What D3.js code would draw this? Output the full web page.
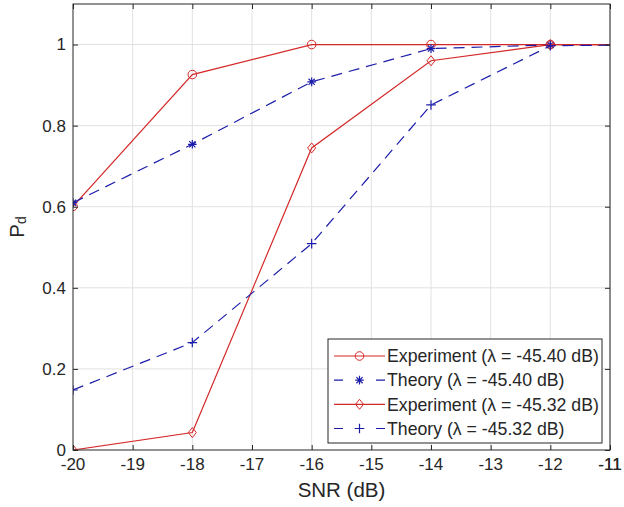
<!DOCTYPE html>
<html>
<head>
<meta charset="utf-8">
<script src="https://cdn.jsdelivr.net/npm/d3@7"></script>
<style>
  body { margin: 0; background: #fff; }
  text { font-family: "Liberation Sans", Arial, sans-serif; fill: #262626; }
</style>
</head>
<body>
<div id="plot"></div>
<script>
// values
const snr = [-20, -18, -16, -14, -12, -10];
const expHigh = [0.601, 0.926, 1.0, 1.0, 1.0, 1.0];      // lambda = -45.40 dB
const theoryHigh = [0.61, 0.754, 0.908, 0.99, 0.999, 1.0];
const expLow = [0.0, 0.043, 0.745, 0.96, 1.0, 1.0];       // lambda = -45.32 dB
const theoryLow = [0.148, 0.265, 0.509, 0.851, 0.997, 1.0];
const xTicks = d3.range(-20, -10, 1);
const yTicks = [0, 0.2, 0.4, 0.6, 0.8, 1];
const legendLabels = [
  'Experiment (\u03bb = -45.40 dB)',
  'Theory (\u03bb = -45.40 dB)',
  'Experiment (\u03bb = -45.32 dB)',
  'Theory (\u03bb = -45.32 dB)'
];

const red = '#d42828';
const blue = '#1c1caa';
const axisCol = '#262626';

const series = [
  { values: expHigh, color: red, dash: null, marker: 'circle' },
  { values: theoryHigh, color: blue, dash: '11,7', marker: 'asterisk' },
  { values: expLow, color: red, dash: null, marker: 'diamond' },
  { values: theoryLow, color: blue, dash: '11,7', marker: 'plus' }
];

const width = 624;
const height = 507;
const margin = { top: 4, right: 14, bottom: 57, left: 73 };
const innerWidth = width - margin.left - margin.right;
const innerHeight = height - margin.top - margin.bottom;

const x = d3.scaleLinear().domain([-20, -11]).range([0, innerWidth]);
const y = d3.scaleLinear().domain([0, 1.1]).range([innerHeight, 0]);

const svg = d3.select('#plot').append('svg')
  .attr('width', width)
  .attr('height', height);

svg.append('rect').attr('width', width).attr('height', height).attr('fill', '#fff');

svg.append('defs').append('clipPath').attr('id', 'clip')
  .append('rect').attr('width', innerWidth).attr('height', innerHeight);

const g = svg.append('g')
  .attr('transform', `translate(${margin.left}, ${margin.top})`);

// grid
g.selectAll('.gx').data(xTicks.slice(1)).enter().append('line')
  .attr('x1', d => x(d)).attr('x2', d => x(d))
  .attr('y1', 0).attr('y2', innerHeight)
  .attr('stroke', '#e1e1e1');
g.selectAll('.gy').data(yTicks.slice(1)).enter().append('line')
  .attr('x1', 0).attr('x2', innerWidth)
  .attr('y1', d => y(d)).attr('y2', d => y(d))
  .attr('stroke', '#e1e1e1');

// markers
const drawMarker = (sel, type, color) => {
  const r = 4.3;
  if (type === 'circle') {
    sel.append('circle').attr('r', r).attr('fill', 'none').attr('stroke', color).attr('stroke-width', 1);
  } else if (type === 'diamond') {
    sel.append('path').attr('d', `M0,${-r - 0.7}L${r - 0.3},0L0,${r + 0.7}L${-r + 0.3},0Z`)
      .attr('fill', 'none').attr('stroke', color).attr('stroke-width', 1);
  } else if (type === 'plus') {
    sel.append('path').attr('d', `M${-r - 0.5},0H${r + 0.5}M0,${-r - 0.5}V${r + 0.5}`)
      .attr('stroke', color).attr('stroke-width', 1.2);
  } else if (type === 'asterisk') {
    const a = r * 0.72;
    sel.append('path').attr('d', `M${-r},0H${r}M0,${-r}V${r}M${-a},${-a}L${a},${a}M${-a},${a}L${a},${-a}`)
      .attr('stroke', color).attr('stroke-width', 1.2);
  }
};

const line = d3.line()
  .x(d => x(d[0]))
  .y(d => y(d[1]));

// lines run on to -10 dB and get clipped at the -11 dB axis limit
const plot = g.append('g').attr('clip-path', 'url(#clip)');

series.forEach(s => {
  const pts = snr.map((v, i) => [v, s.values[i]]);
  plot.append('path')
    .datum(pts)
    .attr('d', line)
    .attr('fill', 'none')
    .attr('stroke', s.color)
    .attr('stroke-width', 1.2)
    .attr('stroke-dasharray', s.dash);
  plot.selectAll(null).data(pts.filter(d => d[0] <= -11)).enter().append('g')
    .attr('transform', d => `translate(${x(d[0])}, ${y(d[1])})`)
    .each(function() { drawMarker(d3.select(this), s.marker, s.color); });
});

// axes box and ticks (matlab style, ticks inside on all sides)
const tickLen = 5;
const xTickAll = xTicks.concat([-11]);

const styleAxis = (sel) => {
  sel.selectAll('line').attr('stroke', axisCol);
  sel.selectAll('text').remove();
  sel.select('.domain').remove();
};

g.append('g').attr('transform', `translate(0, ${innerHeight})`)
  .call(d3.axisBottom(x).tickValues(xTickAll).tickSize(-tickLen)).call(styleAxis);
g.append('g')
  .call(d3.axisTop(x).tickValues(xTickAll).tickSize(-tickLen)).call(styleAxis);
g.append('g')
  .call(d3.axisLeft(y).tickValues(yTicks).tickSize(-tickLen)).call(styleAxis);
g.append('g').attr('transform', `translate(${innerWidth}, 0)`)
  .call(d3.axisRight(y).tickValues(yTicks).tickSize(-tickLen)).call(styleAxis);
g.append('rect')
  .attr('x', 0).attr('y', 0)
  .attr('width', innerWidth).attr('height', innerHeight)
  .attr('fill', 'none').attr('stroke', axisCol).attr('stroke-width', 1);

// tick labels
g.selectAll('.xlab').data(xTickAll).enter().append('text')
  .attr('x', d => x(d))
  .attr('y', innerHeight + 20)
  .attr('text-anchor', 'middle')
  .style('font-size', '17px')
  .text(d => String(d));
g.selectAll('.ylab').data(yTicks).enter().append('text')
  .attr('x', -7)
  .attr('y', d => y(d))
  .attr('dy', '0.35em')
  .attr('text-anchor', 'end')
  .style('font-size', '17px')
  .text(d => String(d));

// axis labels
svg.append('text')
  .attr('x', margin.left + innerWidth / 2)
  .attr('y', 497)
  .attr('text-anchor', 'middle')
  .style('font-size', '20.5px')
  .text('SNR (dB)');

const yl = svg.append('text')
  .attr('transform', `translate(24, ${margin.top + innerHeight / 2}) rotate(-90)`)
  .attr('text-anchor', 'middle')
  .style('font-size', '20.5px');
yl.append('tspan').text('P');
yl.append('tspan').attr('dy', 2).style('font-size', '14px').text('d');

// legend
const legend = svg.append('g').attr('transform', 'translate(328, 339)');
legend.append('rect')
  .attr('width', 274).attr('height', 104)
  .attr('fill', '#fff').attr('stroke', axisCol).attr('stroke-width', 1);

const rowY = d3.scaleLinear().domain([0, 3]).range([17, 89.5]);
series.forEach((s, i) => {
  const row = legend.append('g').attr('transform', `translate(0, ${rowY(i)})`);
  row.append('line')
    .attr('x1', 6).attr('x2', 57)
    .attr('stroke', s.color).attr('stroke-width', 1.2)
    .attr('stroke-dasharray', s.dash ? '9,33' : null);
  const m = row.append('g').attr('transform', 'translate(31.5, 0)');
  drawMarker(m, s.marker, s.color);
  row.append('text')
    .attr('x', 59).attr('y', 0).attr('dy', '0.35em')
    .style('font-size', '17.7px')
    .text(legendLabels[i]);
});
</script>
</body>
</html>
